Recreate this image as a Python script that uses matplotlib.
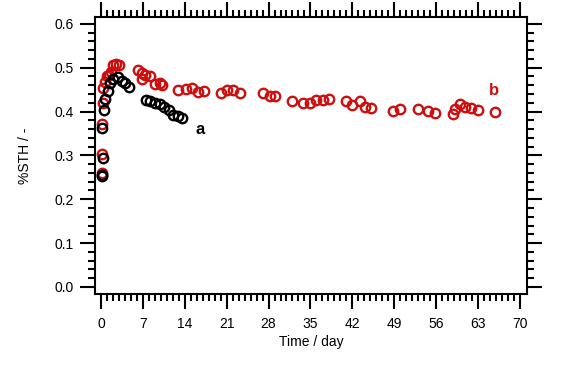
import matplotlib
matplotlib.use("Agg")
import matplotlib.pyplot as plt
from matplotlib.ticker import FixedLocator, FormatStrFormatter

plt.rcParams['font.family'] = ['Liberation Sans', 'DejaVu Sans']

# Series a (black)
a_day = [0.1, 0.1, 0.3, 0.2, 0.5, 0.7, 1.2, 1.5, 2.05, 2.8, 3.5, 4.0, 4.7,
         7.5, 8.2, 9.0, 9.9, 10.5, 11.4, 12.1, 12.9, 13.6]
a_sth = [0.252, 0.256, 0.294, 0.362, 0.404, 0.428, 0.446, 0.465, 0.474, 0.478,
         0.470, 0.465, 0.455, 0.427, 0.423, 0.420, 0.417, 0.410, 0.404, 0.392,
         0.389, 0.385]

# Series b (red)
b_day = [0.1, 0.1, 0.2, 0.4, 0.4, 0.7, 1.0, 1.4, 1.7, 2.05, 2.5, 3.1,
         6.2, 6.8, 6.9, 7.4, 8.2, 9.0, 9.8, 10.2,
         12.9, 14.2, 15.3, 16.2, 17.2, 20.0, 21.0, 22.1, 23.2, 27.1, 28.2, 29.1,
         32.0, 33.7, 34.9, 36.0, 37.1, 38.1, 41.0, 42.0, 43.2, 44.1, 45.1,
         48.8, 49.9, 53.0, 54.7, 55.8, 58.8, 59.1, 60.0, 60.8, 61.9, 63.0, 65.9]
b_sth = [0.260, 0.303, 0.372, 0.420, 0.453, 0.468, 0.480, 0.484, 0.491, 0.506, 0.509, 0.507,
         0.495, 0.488, 0.474, 0.484, 0.480, 0.462, 0.465, 0.460,
         0.449, 0.451, 0.453, 0.444, 0.446, 0.442, 0.449, 0.448, 0.442, 0.443, 0.436, 0.436,
         0.423, 0.420, 0.420, 0.427, 0.427, 0.429, 0.425, 0.416, 0.423, 0.410, 0.408,
         0.402, 0.405, 0.405, 0.402, 0.396, 0.394, 0.405, 0.417, 0.410, 0.408, 0.404, 0.398]

x_major = list(range(0, 71, 7))
x_minor = list(range(0, 71, 1))
y_major = [0.0, 0.1, 0.2, 0.3, 0.4, 0.5, 0.6]
y_minor = [i * 0.02 for i in range(0, 31)]

red = '#cc1010'

fig = plt.figure(figsize=(5.65, 3.66), dpi=100)
ax = fig.add_axes([0.168, 0.197, 0.765, 0.757])

ax.plot(b_day, b_sth, 'o', ms=6.8, mfc='none', mec=red, mew=1.7, zorder=3)
ax.plot(a_day, a_sth, 'o', ms=6.8, mfc='none', mec='black', mew=1.7, zorder=4)

ax.text(16.5, 0.36, 'a', fontsize=12, fontweight='bold', color='black', ha='center', va='center')
ax.text(65.6, 0.448, 'b', fontsize=12, fontweight='bold', color=red, ha='center', va='center')

ax.set_xlim(-1.0, 71.2)
ax.set_ylim(-0.016, 0.616)

ax.xaxis.set_major_locator(FixedLocator(x_major))
ax.xaxis.set_minor_locator(FixedLocator(x_minor))
ax.yaxis.set_major_locator(FixedLocator(y_major))
ax.yaxis.set_minor_locator(FixedLocator(y_minor))
ax.yaxis.set_major_formatter(FormatStrFormatter('%.1f'))

ax.tick_params(which='both', direction='out', top=True, right=True, bottom=True, left=True,
               width=1.5, labelsize=10, color='black')
ax.tick_params(which='major', length=10.5)
ax.tick_params(which='minor', length=5)
ax.tick_params(axis='x', which='major', pad=6)
ax.tick_params(axis='y', which='major', pad=5)

for s in ax.spines.values():
    s.set_linewidth(1.5)

ax.set_xlabel('Time / day', fontsize=10, labelpad=3)
ax.set_ylabel('%STH / -', fontsize=10, labelpad=16)

fig.savefig('out.png', dpi=100)
